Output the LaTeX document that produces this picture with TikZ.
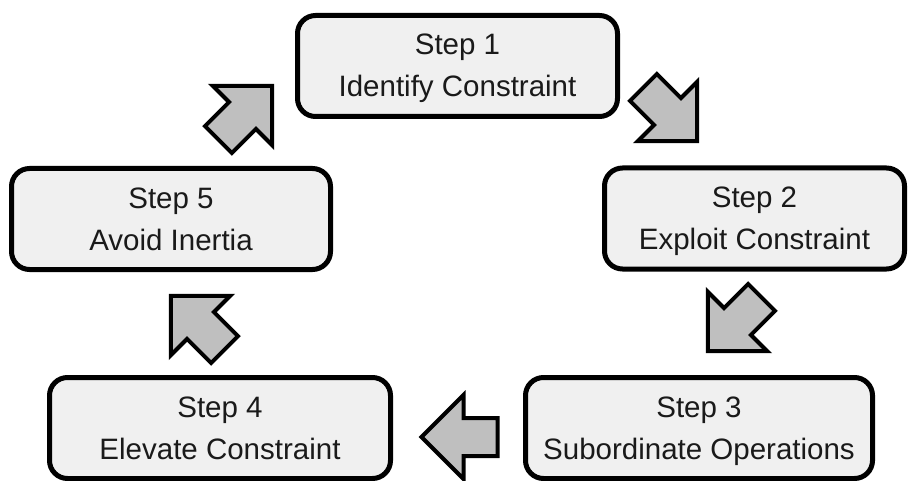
\documentclass[tikz,border=0pt]{standalone}
\usepackage{fontspec}
\setmainfont{Liberation Sans}
\usetikzlibrary{shapes.arrows}
\definecolor{boxfill}{HTML}{F0F0F0}
\definecolor{arrowfill}{HTML}{BFBFBF}
\definecolor{inktext}{HTML}{1A1A1A}
\begin{document}
\begin{tikzpicture}[x=1pt,y=-1pt,
  stepbox/.style={draw=black, line width=5pt, fill=boxfill, rounded corners=18pt,
    minimum height=101pt, align=center, font=\fontsize{29.5}{42}\selectfont,
    text=inktext, text height=62pt, text depth=0pt, inner sep=0pt},
  flowarrow/.style={single arrow, draw=black, line width=4pt, fill=arrowfill,
    minimum height=76pt, inner xsep=0pt, inner ysep=17pt,
    single arrow head extend=23pt, single arrow tip angle=90, line join=miter}]
\useasboundingbox (0,0) rectangle (909,481);

% the five steps of the cycle
\node[stepbox, minimum width=320pt] (s1) at (457.5,66)  {Step 1\\Identify Constraint};
\node[stepbox, minimum width=300pt] (s2) at (754.5,218.5) {Step 2\\Exploit Constraint};
\node[stepbox, minimum width=347pt] (s3) at (699,428)   {Step 3\\Subordinate Operations};
\node[stepbox, minimum width=341pt] (s4) at (220,428)   {Step 4\\Elevate Constraint};
\node[stepbox, minimum width=319pt] (s5) at (171,219)   {Step 5\\Avoid Inertia};

% block arrows leading from one step to the next
\node[flowarrow, rotate=-45]  (a12) at (663.6,107.6) {};
\node[flowarrow, rotate=-135] (a23) at (741.4,317.6) {};
\node[flowarrow, rotate=180]  (a34) at (469,437) {};
\node[flowarrow, rotate=135]  (a45) at (204.4,329.4) {};
\node[flowarrow, rotate=45]   (a51) at (238.6,119.4) {};
\end{tikzpicture}
\end{document}
